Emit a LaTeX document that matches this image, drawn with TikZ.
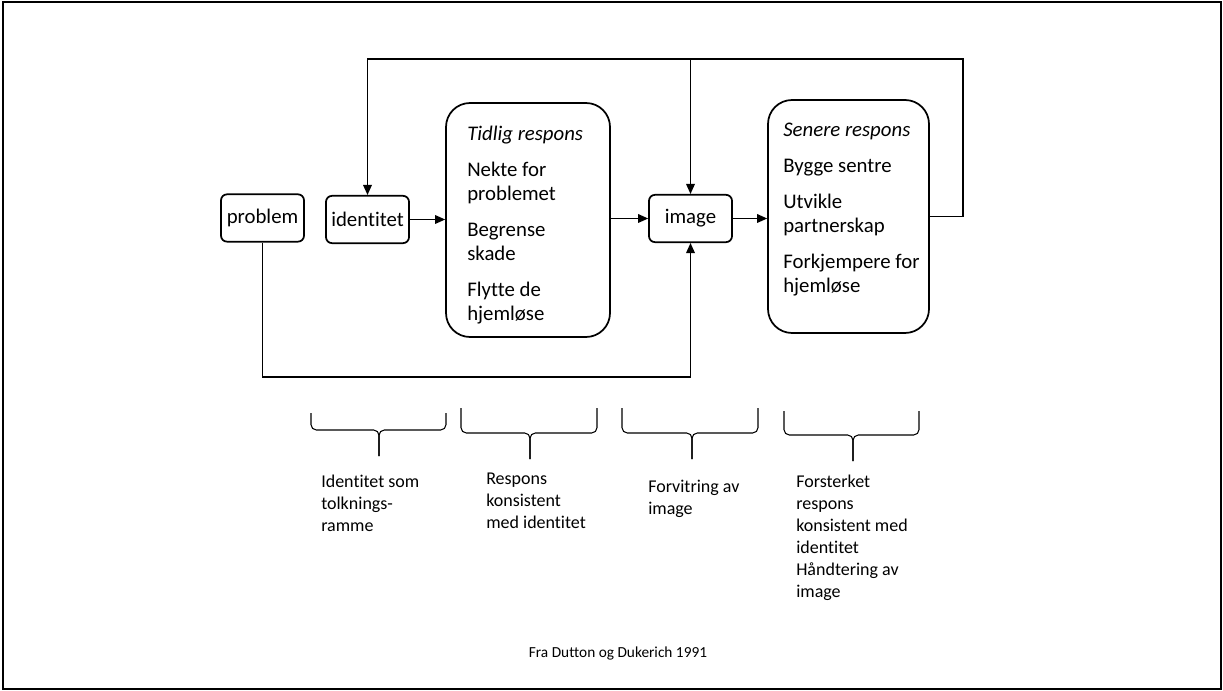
\documentclass[tikz,border=0pt]{standalone}
\usepackage{fontspec}
\setmainfont{Carlito}[Ligatures=NoCommon]
\usetikzlibrary{arrows.meta}
\newcommand{\bracedraw}[6]{%
  \draw[brc] (#1,#3) -- (#1,#4) -- (#5,#4) -- (#5,#6);
  \draw[brc] (#2,#3) -- (#2,#4) -- (#5,#4) -- (#5,#6);
}
\begin{document}
\begin{tikzpicture}[x=0.75pt,y=-0.75pt,
  smallbox/.style={draw, line width=1.3pt, rounded corners=4.5pt, minimum width=62.25pt,
    minimum height=35.5pt, inner sep=0pt, font=\fontsize{15.6}{18}\selectfont},
  bigbox/.style={draw, line width=1.3pt, rounded corners=18pt, inner sep=0pt},
  boxtext/.style={anchor=north west, align=left, inner sep=0pt, font=\fontsize{15.6}{18}\selectfont},
  conn/.style={line width=0.9pt},
  arr/.style={conn, -{Triangle[length=7.5pt,width=6.5pt]}},
  brc/.style={line width=0.8pt, rounded corners=4pt},
  lbl/.style={anchor=north west, align=left, inner sep=0pt, font=\fontsize{13.5}{16.5}\selectfont},
]
\useasboundingbox (0,0) rectangle (1223,691);
\draw[line width=1.5pt] (3,2) rectangle (1221,689);

% boxes
\node[smallbox] (problem) at (262.5,218) {problem};
\node[smallbox] (ident) at (367.5,219.5) {identitet};
\node[smallbox] (image) at (690.5,218.5) {image};
\node[bigbox, minimum width=123pt, minimum height=175.5pt] (tidlig) at (528,220) {};
\node[bigbox, minimum width=120.75pt, minimum height=174.75pt] (senere) at (848.5,216.5) {};

\node[boxtext] (tidligtxt) at (467,126) {\textit{Tidlig respons}\\[9pt]Nekte for\\problemet\\[9pt]Begrense\\skade\\[9pt]Flytte de\\hjemløse};
\node[boxtext] (seneretxt) at (783,123) {\textit{Senere respons}\\[9pt]Bygge sentre\\[9pt]Utvikle\\partnerskap\\[9pt]Forkjempere for\\hjemløse};

% connectors
\coordinate (tr) at (963,59);
\coordinate (bl) at (263,377);
\draw[arr] (ident.east) -- (ident.east -| tidlig.west);
\draw[arr] (tidlig.east |- image.west) -- (image.west);
\draw[arr] (image.east) -- (image.east -| senere.west);
\draw[arr] (senere.east) -| (tr) -| (ident.north);
\draw[arr] (tr) -| (image.north);
\draw[arr] (problem.south) |- (bl) -| (image.south);

% braces
\bracedraw{311}{446}{413}{430}{379}{456}
\bracedraw{461}{597}{408}{433}{530}{459}
\bracedraw{622}{758}{408}{433}{692}{459}
\bracedraw{784}{919}{411}{435}{853}{461}

% labels
\node[lbl] (l1) at (321,475) {Identitet som\\tolknings-\\ramme};
\node[lbl] (l2) at (486,473) {Respons\\konsistent\\med identitet};
\node[lbl] (l3) at (648,480) {Forvitring av\\image};
\node[lbl] (l4) at (796,475) {Forsterket\\respons\\konsistent med\\identitet\\Håndtering av\\image};

\node[font=\fontsize{11.5}{14}\selectfont, inner sep=0pt] (src) at (618,653) {Fra Dutton og Dukerich 1991};
\end{tikzpicture}
\end{document}
